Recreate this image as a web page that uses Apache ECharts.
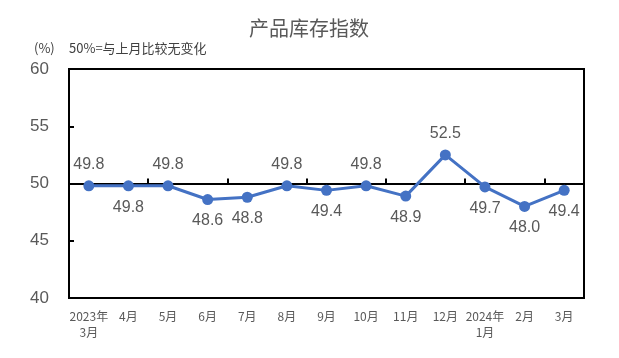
<!DOCTYPE html>
<html><head><meta charset="utf-8">
<script src="https://cdn.jsdelivr.net/npm/echarts@6/dist/echarts.min.js"></script>
<style>html,body{margin:0;padding:0;background:#fff}#c{width:619px;height:358px}</style>
</head><body><div id="c"></div>
<script>
const categories = ['2023年\n3月','4月','5月','6月','7月','8月','9月','10月','11月','12月','2024年\n1月','2月','3月'];
const values = [49.8,49.8,49.8,48.6,48.8,49.8,49.4,49.8,48.9,52.5,49.7,48.0,49.4];
const labelPos = ['top','bottom','top','bottom','bottom','top','bottom','top','bottom','top','bottom','bottom','bottom'];
const yTicks = [40,45,50,55,60];

const FONT = 'Arial, "Liberation Sans", "Noto Sans CJK SC", sans-serif';
const CJK = '"Noto Sans CJK SC", sans-serif';
const chart = echarts.init(document.getElementById('c'));
const gTop = 69, gBottom = 60, gH = 358 - gTop - gBottom;
chart.setOption({
  animation: false,
  graphic: [
    {type:'text', left:249, top:18, style:{text:'产品库存指数', font:'20px ' + CJK, fill:'#595959'}},
    {type:'text', left:34, top:42, style:{text:'(%)', font:'13px ' + CJK, fill:'#404040'}},
    {type:'text', left:69, top:42, style:{text:'50%=与上月比较无变化', font:'13px ' + CJK, fill:'#404040'}}
  ],
  grid: {left:69, right:35, top:gTop, bottom:gBottom, show:true, borderColor:'#000', borderWidth:2},
  xAxis: [
    {type:'category', data:categories, boundaryGap:true,
     axisLine:{show:true, lineStyle:{color:'#000', width:2}},
     axisTick:{show:false},
     axisLabel:{color:'#595959', fontSize:12, fontFamily:CJK, margin:10, interval:0, lineHeight:16}},
    {type:'category', data:categories, boundaryGap:true, position:'bottom', offset:-(gH/2),
     axisLine:{show:true, lineStyle:{color:'#000', width:2}},
     axisTick:{show:true, inside:true, length:5, lineStyle:{color:'#000', width:2}},
     axisLabel:{show:false}}
  ],
  yAxis: {type:'value', min:40, max:60, interval:5,
    axisLine:{show:true, lineStyle:{color:'#000', width:2}},
    axisTick:{show:true, inside:true, length:5, lineStyle:{color:'#000', width:2}},
    splitLine:{show:false},
    axisLabel:{color:'#595959', fontSize:17, fontFamily:FONT, margin:20}},
  series: [{
    type:'line', xAxisIndex:0, z:5,
    data: values.map((v,i)=>({value:v, label:{position:labelPos[i]}})),
    symbol:'circle', symbolSize:11,
    lineStyle:{color:'#4472C4', width:3},
    itemStyle:{color:'#4472C4'},
    label:{show:true, color:'#595959', fontSize:16, fontFamily:FONT, distance:8,
      formatter:p=>p.value.toFixed(1)}
  }]
});
</script></body></html>
